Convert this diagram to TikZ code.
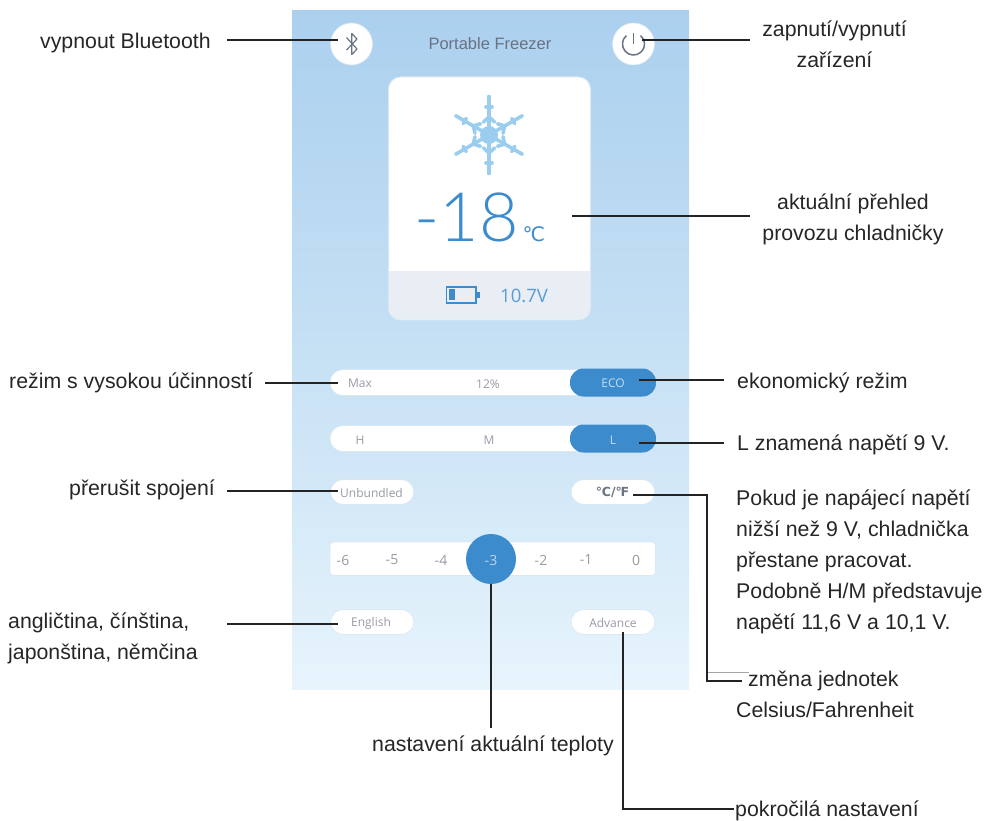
\documentclass[tikz,border=0pt]{standalone}
\usepackage{fontspec}
\setmainfont{Liberation Sans}
\newfontfamily\uifont[Numbers=Lining]{Open Sans}
\newfontfamily\thinfont[Numbers=Lining]{Lato Light}
\newfontfamily\symfont{DejaVu Sans}
\definecolor{bgtop}{RGB}{171,208,238}
\definecolor{bgbot}{RGB}{231,244,252}
\definecolor{accent}{RGB}{60,139,204}
\definecolor{frost}{RGB}{155,205,238}
\definecolor{uigray}{RGB}{150,155,165}
\definecolor{titlegray}{RGB}{105,115,130}
\definecolor{iconback}{RGB}{232,238,243}
\definecolor{edgeblue}{RGB}{218,232,244}
\definecolor{leader}{RGB}{35,35,35}
\tikzset{
  callout/.style={anchor=north west,inner sep=0pt,align=left,text=black!85,font=\fontsize{21.3}{31}\selectfont},
  calloutc/.style={callout,align=center,anchor=north},
  link/.style={draw=leader,line width=1.7pt},
  pill/.style={rounded corners=13pt,fill=white,draw=edgeblue,line width=0.6pt},
  activepill/.style={rounded corners=13.5pt,fill=accent},
  ui/.style={inner sep=0pt,text=uigray,font=\uifont\fontsize{12}{14}\selectfont},
  iconline/.style={draw=titlegray,line width=1.2pt},
  arm/.style={draw=frost,line width=3.6pt,line cap=round}
}
\begin{document}
\begin{tikzpicture}[x=1pt,y=-1pt]
\useasboundingbox (0,0) rectangle (986,821);
% panel
\shade[top color=bgtop,bottom color=bgbot,middle color=bgtop!55!bgbot] (292,11) rectangle (689,689);
% top buttons
\node[circle,fill=white,draw=edgeblue,line width=0.6pt,minimum size=42pt,inner sep=0pt] (bt) at (351.5,44) {};
\node[circle,fill=white,draw=edgeblue,line width=0.6pt,minimum size=42pt,inner sep=0pt] (pw) at (633.5,44) {};
\draw[iconline,line width=1.2pt,line join=round] (346.5,37.5) -- (357,49) -- (351.8,54.5) -- (351.8,33.5) -- (357,39) -- (346.5,50);
\draw[iconline,line width=1.5pt] (626.4,35.6) arc[start angle=-130,delta angle=-280,radius=11];
\draw[iconline,line width=1.5pt] (633.5,33) -- (633.5,44);
\node[inner sep=0pt,text=titlegray,font=\fontsize{16.5}{18}\selectfont] (title) at (490,43.5) {Portable Freezer};
% card
\draw[fill=white,draw=edgeblue,line width=1pt,rounded corners=12pt] (388.5,77) rectangle (590.5,320);
\fill[iconback,rounded corners=12pt] (389,271) -- (590,271) -- (590,319.5) -- (389,319.5) -- cycle;
\fill[iconback] (389,271) rectangle (590,285);
% snowflake
\fill[frost] (489,135) circle (9);
\foreach \a in {90,30,-30,-90,-150,150}{
  \begin{scope}[shift={(489,135)},rotate=\a]
    \draw[arm] (0,0) -- (38.5,0);
    \draw[arm] (28,-3) -- (28,3);
    \draw[arm] (13,-5.5) -- (18,0) -- (13,5.5);
  \end{scope}
}
% temperature
\node[inner sep=0pt,anchor=base,text=accent,font=\thinfont\fontsize{68}{68}\selectfont] (temp) at (466.5,242) {-18};
\node[inner sep=0pt,anchor=base west,text=accent,font=\symfont\fontsize{20}{20}\selectfont] (unit) at (522.5,242) {℃};
% battery
\draw[accent,line width=1.3pt] (446.5,287) rectangle (476,303);
\fill[accent] (449,289.5) rectangle (455,300.5);
\fill[accent] (476,292) rectangle (480,298);
\node[inner sep=0pt,text=accent!85,font=\uifont\fontsize{18.5}{20}\selectfont] (volt) at (524,296) {10.7V};
% mode rows
\draw[pill] (330,369.5) rectangle (656,395.5);
\fill[activepill] (570,368.5) rectangle (656,396.5);
\node[ui] (max) at (360,383.5) {Max};
\node[ui] (pct) at (488,384) {12\%};
\node[ui,text=white!70!accent] (eco) at (613,383.5) {ECO};
\draw[pill] (330,425.5) rectangle (656,451.5);
\fill[activepill] (570,424.5) rectangle (656,452.5);
\node[ui] (h) at (360,440) {H};
\node[ui] (m) at (489,440) {M};
\node[ui,text=white!70!accent] (l) at (613,440) {L};
% small buttons
\draw[pill] (330.5,479.5) rectangle (414,504.5);
\node[ui] (unb) at (371.5,492.5) {Unbundled};
\draw[pill] (571,479.5) rectangle (655,504.5);
\node[ui,text=titlegray,font=\symfont\bfseries\fontsize{12.5}{14}\selectfont] (cf) at (612.5,492.5) {℃/℉};
% slider
\draw[fill=white,draw=edgeblue,line width=0.6pt,rounded corners=4pt] (330,542) rectangle (655.5,575.5);
\foreach \t/\x in {-6/343,-5/392,-4/441,-2/541,-1/586,0/636}{
  \node[ui,font=\uifont\fontsize{14}{16}\selectfont] (s\x) at (\x,560) {\t};
}
\node[circle,fill=accent,minimum size=50pt,inner sep=0pt] (knob) at (491,559) {};
\node[ui,text=white!65!accent,font=\uifont\fontsize{14}{16}\selectfont] (knobt) at (491,560) {-3};
\draw[pill] (330.5,609.5) rectangle (414,634.5);
\node[ui] (eng) at (371,623.5) {English};
\draw[pill] (571,609.5) rectangle (655,634.5);
\node[ui] (adv) at (613,622.5) {Advance};
% callouts
\node[callout] (t1) at (40,32.5) {vypnout Bluetooth};
\node[calloutc] (t2) at (834.5,21) {zapnutí/vypnutí\\zařízení};
\node[calloutc] (t3) at (853,194) {aktuální přehled\\provozu chladničky};
\node[callout] (t4) at (9,373) {režim s vysokou účinností};
\node[callout] (t5) at (737,373) {ekonomický režim};
\node[callout] (t6) at (737,435) {L znamená napětí 9 V.};
\node[callout] (t7) at (69,479.5) {přerušit spojení};
\node[callout] (t8) at (736,489.5) {Pokud je napájecí napětí\\nižší než 9 V, chladnička\\přestane pracovat.\\Podobně H/M představuje\\napětí 11,6 V a 10,1 V.};
\node[callout] (t9) at (736,671) {\hspace*{12pt}změna jednotek\\Celsius/Fahrenheit};
\node[callout] (t10) at (8,613) {angličtina, čínština,\\japonština, němčina};
\node[callout] (t11) at (372,736) {nastavení aktuální teploty};
\node[callout] (t12) at (735,801) {pokročilá nastavení};
% connector anchors
\coordinate (c1a) at (227,40);  \coordinate (c1b) at (338,40);
\coordinate (c2a) at (642,40);  \coordinate (c2b) at (750,40);
\coordinate (c3a) at (572,216);   \coordinate (c3b) at (750,216);
\coordinate (c4a) at (265,383);   \coordinate (c4b) at (338,383);
\coordinate (c5a) at (639,380);   \coordinate (c5b) at (724,380);
\coordinate (c6a) at (639,443);   \coordinate (c6b) at (724,443);
\coordinate (c7a) at (227,491);   \coordinate (c7b) at (338,491);
\coordinate (c8a) at (633,495);   \coordinate (c8b) at (707,495);
\coordinate (c8c) at (707,681);   \coordinate (c8d) at (742,681);
\coordinate (c9a) at (227,624);   \coordinate (c9b) at (338,624);
\coordinate (c10b) at (491,728);
\coordinate (c11a) at (623,632); \coordinate (c11b) at (623,809); \coordinate (c11c) at (734,809);
\draw[draw=black!35,line width=0.6pt] (c8b |- 0,672) -- (749,672);
\draw[link] (c1a) -- (c1b);
\draw[link] (c2a) -- (c2b);
\draw[link] (c3a) -- (c3b);
\draw[link] (c4a) -- (c4b);
\draw[link] (c5a) -- (c5b);
\draw[link] (c6a) -- (c6b);
\draw[link] (c7a) -- (c7b);
\draw[link] (c8a) -- (c8b) -- (c8c) -- (c8d);
\draw[link] (c9a) -- (c9b);
\draw[link] (knob.south) -- (c10b);
\draw[link] (c11a) -- (c11b) -- (c11c);
\end{tikzpicture}
\end{document}
